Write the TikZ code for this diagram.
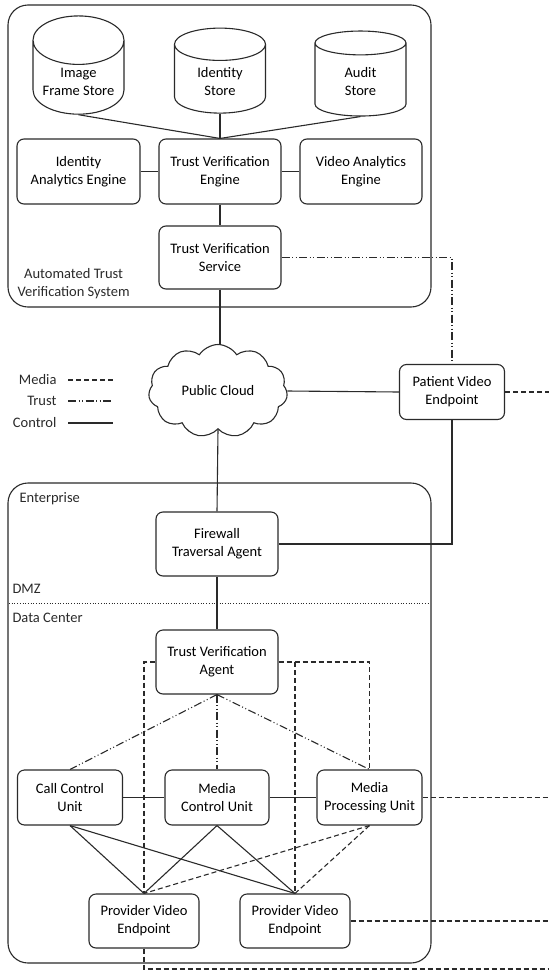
\documentclass[tikz,border=0pt]{standalone}
\usepackage{fontspec}
\setmainfont{Carlito}
\usepackage{xcolor}
\definecolor{ink}{HTML}{2A2A2A}
\usetikzlibrary{positioning,shapes.geometric,shapes.symbols}
\tikzset{
  unit/.style={draw=ink,rounded corners=7pt,line width=1.1pt,align=center,
    font=\fontsize{14.5}{18}\selectfont,inner sep=2pt},
  store/.style={cylinder,shape border rotate=90,draw=ink,line width=1.1pt,aspect=0.62,
    align=center,font=\fontsize{14.5}{18}\selectfont,minimum width=91pt,minimum height=85pt},
  zone/.style={draw=ink,rounded corners=20pt,line width=1.1pt},
  lbl/.style={font=\fontsize{14.5}{18}\selectfont,align=center,text=ink},
  control/.style={draw=ink,line width=1.1pt},
  media/.style={draw=ink,line width=1.1pt,dash pattern=on 5pt off 3pt},
  trust/.style={draw=ink,line width=1.1pt,dash pattern=on 8pt off 2.5pt on 1pt off 2.5pt on 1pt off 2.5pt},
}
\begin{document}
\begin{tikzpicture}[x=1pt,y=-1pt]
  \useasboundingbox (0,0) rectangle (549,972);
  % zones
  \draw[zone] (8,5) rectangle (431,307);
  \draw[zone] (8,483) rectangle (431,963);
  \draw[ink,line width=0.7pt,dotted] (9,603) -- (430,603);
  \node[lbl,anchor=west] (atvs) at (14,284) {Automated Trust\\Verification System};
  \node[lbl,anchor=west] (ent) at (16,499) {Enterprise};
  \node[lbl,anchor=west] (dmz) at (9,589) {DMZ};
  \node[lbl,anchor=west] (dc) at (9,618) {Data Center};
  % stores
  \node[store] (ifs) at (78.5,82) {Image\\Frame Store};
  \node[store] (ids) at (220,82) {Identity\\Store};
  \node[store] (aud) at (360.5,82) {Audit\\Store};
  % verification system
  \node[unit,minimum width=123pt,minimum height=65pt] (iae) at (78.5,171.5) {Identity\\Analytics Engine};
  \node[unit,minimum width=122pt,minimum height=65pt] (tve) at (220,171.5) {Trust Verification\\Engine};
  \node[unit,minimum width=122pt,minimum height=65pt] (vae) at (361,171.5) {Video Analytics\\Engine};
  \node[unit,minimum width=122pt,minimum height=63pt] (tvs) at (220,257.5) {Trust Verification\\Service};
  % outside
  \node[cloud,cloud puffs=11,cloud puff arc=115,aspect=1.5,draw=ink,line width=1.1pt,
    minimum width=139pt,minimum height=93pt,font=\fontsize{14.5}{18}\selectfont] (cloud) at (218,391) {Public Cloud};
  \node[unit,minimum width=105pt,minimum height=55pt] (pve) at (452,392) {Patient Video\\Endpoint};
  % legend
  \node[lbl,anchor=east] (lmed) at (60,380) {Media};
  \node[lbl,anchor=east] (ltru) at (60,401) {Trust};
  \node[lbl,anchor=east] (lctl) at (60,423) {Control};
  \coordinate (emed) at (113,380);
  \coordinate (etru) at (113,401);
  \coordinate (ectl) at (113,423);
  \draw[media] ([xshift=8pt]lmed.east) -- (emed);
  \draw[trust] ([xshift=8pt]ltru.east) -- (etru);
  \draw[control] ([xshift=8pt]lctl.east) -- (ectl);
  % enterprise
  \node[unit,minimum width=122pt,minimum height=64pt] (fta) at (217,544) {Firewall\\Traversal Agent};
  \node[unit,minimum width=122pt,minimum height=64pt] (tva) at (217,662) {Trust Verification\\Agent};
  \node[unit,minimum width=105pt,minimum height=55pt] (ccu) at (70,797.5) {Call Control\\Unit};
  \node[unit,minimum width=104pt,minimum height=55pt] (mcu) at (217,797.5) {Media\\Control Unit};
  \node[unit,minimum width=105pt,minimum height=55pt] (mpu) at (369.5,797.5) {Media\\Processing Unit};
  \node[unit,minimum width=110pt,minimum height=54pt] (pve1) at (144,921) {Provider Video\\Endpoint};
  \node[unit,minimum width=110pt,minimum height=54pt] (pve2) at (295,921) {Provider Video\\Endpoint};
  \coordinate (outA) at (549,392);
  \coordinate (outB) at (549,797.5);
  \coordinate (outC) at (549,921);
  \coordinate (outD) at (549,969);
  % control links
  \foreach \s in {ifs,ids,aud}{
    \draw[control] (\s.south) -- (tve.north);
  }
  \draw[control] (iae.east) -- (tve.west);
  \draw[control] (tve.east) -- (vae.west);
  \draw[control] (tve.south) -- (tvs.north);
  \draw[control] (tvs.south) -- (tvs.south |- cloud.north);
  \draw[control] (cloud.south) -- (fta.north);
  \draw[control] (cloud.east) -- (pve.west);
  \draw[control] (pve.south) |- (fta.east);
  \draw[control] (fta.south) -- (tva.north);
  \draw[control] (ccu.east) -- (mcu.west);
  \draw[control] (mcu.east) -- (mpu.west);
  \foreach \a in {ccu,mcu}{
    \draw[control] (\a.south) -- (pve1.north);
    \draw[control] (\a.south) -- (pve2.north);
  }
  % trust links
  \draw[trust] (tvs.east) -| (pve.north);
  \foreach \b in {ccu,mcu,mpu}{
    \draw[trust] (tva.south) -- (\b.north);
  }
  % media links
  \draw[media] (pve.east) -- (outA);
  \draw[media] (tva.west) -| (pve1.north);
  \draw[media] (tva.east) -| (mpu.north);
  \draw[media] (tva.east -| pve2.north) -- (pve2.north);
  \draw[media] (mpu.south) -- (pve1.north);
  \draw[media] (mpu.south) -- (pve2.north);
  \draw[media] (mpu.east) -- (outB);
  \draw[media] (pve2.east) -- (outC);
  \draw[media] (pve1.south) |- (outD);
\end{tikzpicture}
\end{document}
